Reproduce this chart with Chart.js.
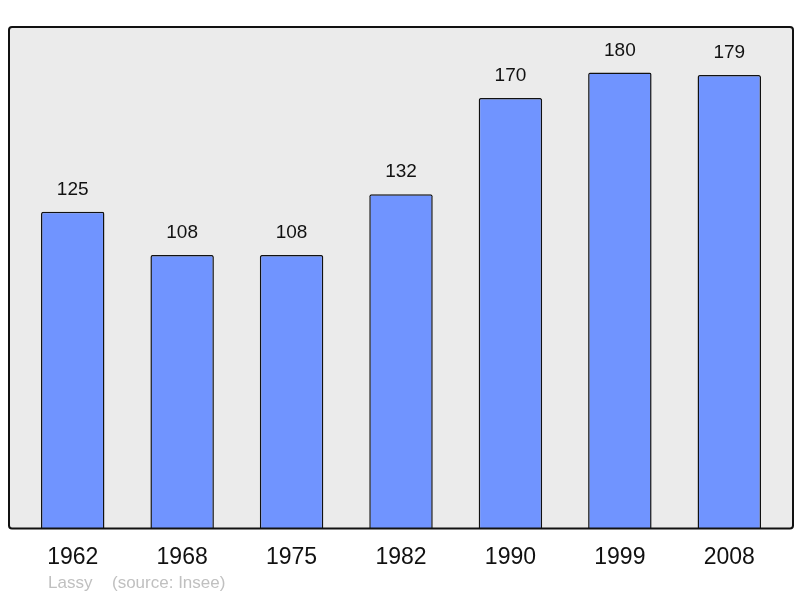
<!DOCTYPE html>
<html>
<head>
<meta charset="utf-8">
<script src="https://cdn.jsdelivr.net/npm/chart.js@4/dist/chart.umd.min.js"></script>
<style>
  html, body { margin: 0; padding: 0; background: #fff; }
  #wrap { width: 800px; height: 598px; }
</style>
</head>
<body>
<div id="wrap"><canvas id="pop"></canvas></div>
<script>
// population data
var years = ['1962', '1968', '1975', '1982', '1990', '1999', '2008'];
var population = [125, 108, 108, 132, 170, 180, 179];
var commune = 'Lassy';
var source = '(source: Insee)';

// grey frame behind the bars + value labels + footer
var framePlugin = {
  id: 'frame',
  beforeDraw: function(chart) {
    var a = chart.chartArea, c = chart.ctx;
    var x = a.left - 9, y = a.top, w = a.right - a.left + 18, h = a.bottom - a.top;
    c.save();
    c.beginPath();
    c.roundRect(x, y, w, h, 3);
    c.fillStyle = '#ebebeb';
    c.fill();
    c.restore();
  },
  afterDatasetsDraw: function(chart) {
    var a = chart.chartArea, c = chart.ctx;
    var x = a.left - 9, y = a.top, w = a.right - a.left + 18, h = a.bottom - a.top;
    c.save();
    c.beginPath();
    c.roundRect(x, y, w, h, 3);
    c.lineWidth = 2;
    c.strokeStyle = '#111';
    c.stroke();

    // numbers above bars
    var meta = chart.getDatasetMeta(0);
    c.fillStyle = '#111';
    c.font = '19px "Liberation Sans", Arial, sans-serif';
    c.textAlign = 'center';
    c.textBaseline = 'middle';
    meta.data.forEach(function(bar, i) {
      c.fillText(population[i], bar.x, bar.y - 22);
    });

    // footer
    c.fillStyle = '#c0c0c0';
    c.font = '17px "Liberation Sans", Arial, sans-serif';
    c.textAlign = 'left';
    c.fillText(commune, 48, 583);
    c.fillText(source, 112, 583);
    c.restore();
  }
};

new Chart(document.getElementById('pop'), {
  type: 'bar',
  data: {
    labels: years,
    datasets: [{
      data: population,
      backgroundColor: '#7094ff',
      borderColor: '#111',
      borderWidth: 1.5,
      borderRadius: 2,
      borderSkipped: 'bottom',
      barPercentage: 0.58,
      categoryPercentage: 1
    }]
  },
  options: {
    responsive: true,
    maintainAspectRatio: false,
    animation: false,
    layout: { padding: { left: 18, right: 16, top: 27, bottom: 20 } },
    plugins: {
      legend: { display: false },
      tooltip: { enabled: false }
    },
    scales: {
      y: {
        display: false,
        min: 0,
        max: 198
      },
      x: {
        grid: { display: false },
        border: { display: false },
        ticks: {
          padding: 7,
          color: '#111',
          font: { size: 23, family: '"Liberation Sans", Arial, sans-serif' }
        }
      }
    }
  },
  plugins: [framePlugin]
});
</script>
</body>
</html>
